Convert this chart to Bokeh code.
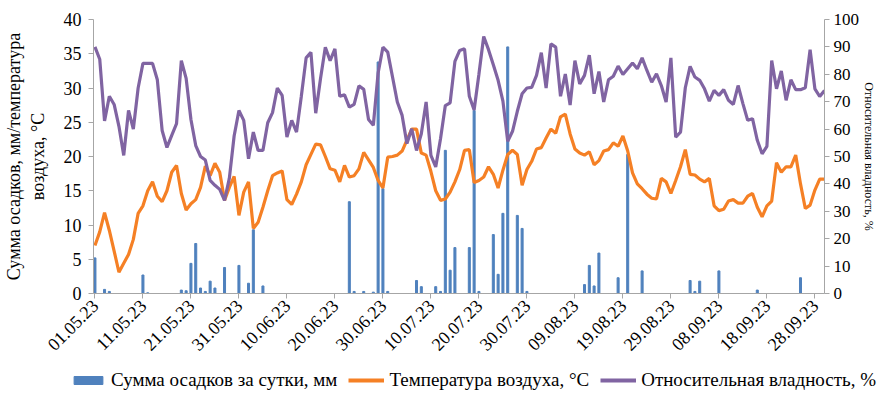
import datetime
from bokeh.plotting import figure
from bokeh.models import Range1d, LinearAxis, FixedTicker, Legend, LegendItem, ColumnDataSource
from bokeh.embed import file_html
from bokeh.resources import INLINE

# ---- data (daily, 01.05.2023 - 30.09.2023) ----
start_date = datetime.date(2023, 5, 1)
n_days = 153

precip_mm = [
    5.2, 0, 0.6, 0.3, 0, 0, 0, 0, 0, 0,
    2.7, 0.1, 0, 0, 0, 0, 0, 0, 0.5, 0.4,
    4.4, 7.3, 0.8, 0.3, 1.8, 0.8, 0, 3.8, 0, 0,
    4.1, 0, 1.5, 9.3, 0, 1.1, 0, 0, 0, 0,
    0, 0, 0, 0, 0, 0, 0, 0, 0, 0,
    0, 0, 0, 13.4, 0.3, 0, 0.3, 0, 0.2, 33.8,
    15.3, 0.3, 0, 0, 0, 0, 0, 1.9, 1.0, 0,
    0, 1.0, 0.3, 20.9, 3.4, 6.7, 0, 0, 6.7, 26.7,
    0.3, 0, 0, 8.6, 2.8, 11.7, 36.0, 0, 11.4, 9.5,
    0.3, 0, 0, 0, 0, 0, 0, 0, 0, 0,
    0, 0, 1.3, 4.1, 1.1, 5.9, 0, 0, 0, 2.3,
    0, 20.3, 0, 0, 3.3, 0, 0, 0, 0, 0,
    0, 0, 0, 0, 1.9, 0.3, 1.8, 0, 0, 0,
    3.3, 0, 0, 0, 0, 0, 0, 0, 0.5, 0,
    0, 0, 0, 0, 0, 0, 0, 2.3, 0, 0,
    0, 0, 0,
]

temperature_c = [
    7.0, 9.0, 11.8, 9.2, 6.2, 3.1, 4.4, 5.7, 7.9, 11.7,
    12.8, 15.0, 16.3, 14.2, 13.4, 15.0, 17.7, 18.7, 14.6, 12.2,
    13.1, 13.7, 15.5, 18.6, 17.2, 19.0, 17.7, 13.6, 15.5, 17.1,
    11.4, 14.8, 16.3, 9.5, 10.4, 12.6, 15.0, 17.2, 17.6, 17.9,
    13.7, 13.0, 14.5, 16.3, 18.8, 20.3, 21.8, 21.7, 20.0, 18.2,
    18.0, 16.3, 18.7, 17.0, 17.2, 18.2, 20.6, 19.5, 18.4, 16.5,
    15.4, 19.9, 20.0, 20.2, 20.8, 22.4, 24.0, 24.0, 20.5, 20.2,
    17.8, 15.0, 13.6, 13.8, 14.8, 16.3, 18.1, 20.9, 21.0, 16.2,
    16.5, 17.0, 18.5, 17.4, 15.4, 18.0, 20.3, 20.9, 20.3, 15.8,
    18.1, 19.3, 21.1, 21.3, 22.7, 24.0, 23.4, 25.8, 26.2, 23.3,
    21.1, 20.5, 20.2, 20.7, 18.8, 19.4, 20.8, 21.0, 22.0, 21.5,
    23.0, 20.8, 17.6, 16.0, 15.3, 14.5, 13.9, 13.8, 16.8, 16.3,
    14.6, 16.5, 18.5, 21.0, 17.4, 17.3, 16.7, 16.3, 16.8, 12.8,
    12.1, 12.3, 13.5, 13.7, 13.2, 13.2, 14.2, 14.6, 12.6, 11.2,
    12.8, 13.5, 19.1, 17.7, 18.5, 18.5, 20.2, 16.0, 12.4, 12.9,
    15.1, 16.7, 16.7,
]

humidity_pct = [
    90, 85.5, 63, 72, 69, 61, 50.4, 66.8, 60, 75,
    84, 84, 84, 78, 59.5, 53.3, 57.7, 62, 85, 78.5,
    63.5, 54, 50, 48.7, 41.3, 39.5, 38, 34, 42, 57.5,
    66.8, 63.2, 49.2, 58.9, 52.2, 52.2, 62.3, 66, 75, 72.3,
    57.1, 63.2, 58.9, 72, 86, 88, 65.8, 78.5, 89.9, 85,
    89.3, 72, 72.5, 68, 69, 75.8, 74.5, 63.5, 61.4, 80.5,
    89.9, 88.1, 79, 69.9, 65, 54.7, 60.1, 52.2, 58.3, 69.9,
    50.4, 46.2, 56.5, 68.6, 69.6, 84.7, 88.7, 89.3, 72, 67,
    80, 93.8, 89, 83.5, 77.8, 70.2, 55.5, 59.2, 66.5, 72.9,
    75, 75.2, 79.6, 87.9, 75, 91.1, 89.9, 72, 80.1, 68.8,
    85, 76.5, 79.6, 87, 72.9, 81, 69.9, 78, 79.3, 83,
    79.9, 82, 84.1, 82, 86, 81.4, 77.1, 80.2, 75.9, 69.9,
    86, 57.1, 58.9, 75.1, 82.9, 79, 77.8, 74.7, 70.2, 74.1,
    72.3, 74.4, 70.5, 69, 75.9, 69.3, 63.2, 63.8, 55.9, 51,
    53.7, 85, 74.7, 81.2, 70.5, 78, 74.4, 74.4, 75.1, 89,
    74.7, 71.9, 74.1,
]

tick_labels = ["01.05.23", "11.05.23", "21.05.23", "31.05.23", "10.06.23",
               "20.06.23", "30.06.23", "10.07.23", "20.07.23", "30.07.23",
               "09.08.23", "19.08.23", "29.08.23", "08.09.23", "18.09.23",
               "28.09.23"]

series_names = ["Сумма осадков за сутки, мм",
                "Температура воздуха, °С",
                "Относительная владность, %"]

# ---- build ----
day_idx = list(range(n_days))
dates = [start_date + datetime.timedelta(days=i) for i in day_idx]
date_str = [d.strftime("%d.%m.%y") for d in dates]
tick_pos = [date_str.index(t) for t in tick_labels]

src = ColumnDataSource(dict(x=day_idx, p=precip_mm, t=temperature_c, h=humidity_pct))

FONT = "Liberation Serif"
GREY = "#A6A6A6"
C_BAR = "#4F81BD"
C_T = "#F58025"
C_H = "#8064A2"

# Bokeh's standalone page has no body margin: the figure starts at (0, 0)
p = figure(width=879, height=360, output_backend="svg", toolbar_location=None,
           x_range=Range1d(-0.3, 152.0), y_range=Range1d(0, 40),
           min_border_left=92, min_border_right=48, min_border_top=19,
           min_border_bottom=67)
p.extra_y_ranges = {"hum": Range1d(0, 100)}
p.outline_line_color = None
p.xgrid.visible = False
p.ygrid.visible = False

bars = p.vbar(x="x", top="p", width=0.42, source=src, color=C_BAR)
tline = p.line("x", "t", source=src, line_color=C_T, line_width=3.2)
hline = p.line("x", "h", source=src, line_color=C_H, line_width=3.2,
               y_range_name="hum")

def style_axis(ax, size="18px"):
    ax.axis_line_color = GREY
    ax.major_tick_line_color = GREY
    ax.minor_tick_line_color = None
    ax.major_tick_in = 0
    ax.major_tick_out = 5
    ax.major_label_text_font = FONT
    ax.major_label_text_font_size = size
    ax.major_label_text_color = "#000000"
    ax.axis_label_text_font = FONT
    ax.axis_label_text_font_size = "18px"
    ax.axis_label_text_font_style = "normal"
    ax.axis_label_text_color = "#000000"

ax = p.xaxis[0]
style_axis(ax, "18px")
ax.ticker = FixedTicker(ticks=tick_pos)
ax.major_label_overrides = {pos: lab for pos, lab in zip(tick_pos, tick_labels)}
ax.major_label_orientation = 0.785398
ax.major_label_standoff = 4

ly = p.yaxis[0]
style_axis(ly, "18px")
ly.ticker = FixedTicker(ticks=[0, 5, 10, 15, 20, 25, 30, 35, 40])
ly.axis_label = "Сумма осадков, мм/температура\nвоздуха, °С"
ly.axis_label_standoff = 13
ly.major_label_standoff = 7

ry = LinearAxis(y_range_name="hum", axis_label="Относительная владность, %")
style_axis(ry, "17px")
ry.ticker = FixedTicker(ticks=list(range(0, 101, 10)))
ry.major_label_standoff = 4
ry.axis_label_standoff = 0
ry.axis_label_text_font_size = "12px"
p.add_layout(ry, "right")

# ---- legend strip below the chart (separate root, so no frame alignment) ----
pl = figure(width=879, height=43, output_backend="svg", toolbar_location=None,
            x_range=Range1d(0, 1), y_range=Range1d(0, 1), min_border=0,
            x_axis_location=None, y_axis_location=None)
pl.outline_line_color = None
pl.xgrid.visible = False
pl.ygrid.visible = False
lb = pl.vbar(x=[-5], top=[-5], width=0.4, color=C_BAR)
lt = pl.line(x=[-5, -4], y=[-5, -5], line_color=C_T, line_width=4)
lh = pl.line(x=[-5, -4], y=[-5, -5], line_color=C_H, line_width=4)

legend = Legend(items=[LegendItem(label=series_names[0], renderers=[lb]),
                       LegendItem(label=series_names[1], renderers=[lt]),
                       LegendItem(label=series_names[2], renderers=[lh])],
                orientation="horizontal", location=(70, 12))
legend.label_text_font = FONT
legend.label_text_font_size = "19px"
legend.label_text_color = "#000000"
legend.border_line_color = None
legend.background_fill_alpha = 0
legend.glyph_width = 36
legend.glyph_height = 10
legend.label_standoff = 5
legend.spacing = 11
legend.padding = 2
legend.margin = 0
pl.add_layout(legend)

open("out.html", "w").write(file_html([p, pl], INLINE))
